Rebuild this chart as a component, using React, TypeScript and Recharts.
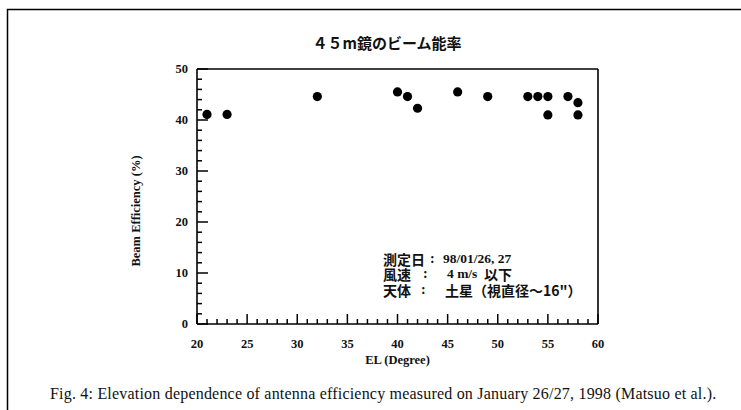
import React from 'react';
import { ScatterChart, Scatter, XAxis, YAxis, Label } from 'recharts';

// Elevation (deg) of each measurement
const elevation = [21, 23, 32, 40, 41, 42, 46, 49, 53, 54, 55, 55, 57, 58, 58];
// Beam efficiency (%)
const efficiency = [41.1, 41.1, 44.6, 45.5, 44.6, 42.3, 45.5, 44.6, 44.6, 44.6, 44.6, 41.0, 44.6, 43.4, 41.0];

const xMajorTicks = [20, 25, 30, 35, 40, 45, 50, 55, 60];
const yMajorTicks = [0, 10, 20, 30, 40, 50];
const xAllTicks = Array.from({ length: 41 }, (_, i) => 20 + i);
const yAllTicks = Array.from({ length: 26 }, (_, i) => i * 2);

const titleText = '４５m鏡のビーム能率';
const xLabelText = 'EL (Degree)';
const yLabelText = 'Beam Efficiency (%)';
const captionText =
  'Fig. 4: Elevation dependence of antenna efficiency measured on January 26/27, 1998 (Matsuo et al.).';
const noteLabels = ['測定日', '風速', '天体'];
const noteValues = ['98/01/26, 27', '4 m/s', '土星（視直径～16"）'];

const data = elevation.map((x, i) => ({ x, y: efficiency[i] }));

const SERIF = '"Liberation Serif", "DejaVu Serif", serif';
const JP = '"Noto Sans CJK JP", sans-serif';
const INK = '#000';

const BottomTick = (props: any) => {
  const { x, y, payload } = props;
  const v = payload.value;
  const major = xMajorTicks.includes(v);
  return (
    <g>
      <path d={`M${x},${y}V${y - (major ? 10 : 5)}`} stroke={INK} strokeWidth={1.5} fill="none" />
      {major && (
        <text x={x} y={y + 20} textAnchor="middle" dominantBaseline="central" fontFamily={SERIF} fontWeight="bold" fontSize={12.5} fill="#111">
          {v}
        </text>
      )}
    </g>
  );
};

const TopTick = (props: any) => {
  const { x, y, payload } = props;
  const major = xMajorTicks.includes(payload.value);
  return <path d={`M${x},${y}V${y + (major ? 10 : 5)}`} stroke={INK} strokeWidth={1.5} fill="none" />;
};

const LeftTick = (props: any) => {
  const { x, y, payload } = props;
  const v = payload.value;
  const major = yMajorTicks.includes(v);
  return (
    <g>
      <path d={`M${x},${y}H${x + (major ? 11 : 5)}`} stroke={INK} strokeWidth={1.5} fill="none" />
      {major && (
        <text x={x - 9} y={y} textAnchor="end" dominantBaseline="central" fontFamily={SERIF} fontWeight="bold" fontSize={12.5} fill="#111">
          {v}
        </text>
      )}
    </g>
  );
};

const RightTick = (props: any) => {
  const { x, y, payload } = props;
  const major = yMajorTicks.includes(payload.value);
  return <path d={`M${x},${y}H${x - (major ? 11 : 5)}`} stroke={INK} strokeWidth={1.5} fill="none" />;
};

const Dot = (props: any) => <circle cx={props.cx} cy={props.cy} r={4.6} fill="#000" />;

const axisLine = { stroke: INK, strokeWidth: 1.6 };

export default function App() {
  return (
    <div style={{ position: 'fixed', left: 0, top: 0, width: 741, height: 410, overflow: 'hidden', background: '#fff' }}>
      <div style={{ position: 'absolute', left: 0, top: 0 }}>
        <ScatterChart width={741} height={410} margin={{ top: 59, right: 133, bottom: 46, left: 137 }}>
          <XAxis
            xAxisId="bottom"
            type="number"
            dataKey="x"
            domain={[20, 60]}
            ticks={xAllTicks}
            interval={0}
            height={40}
            tickSize={0}
            tickMargin={0}
            tickLine={false}
            axisLine={axisLine}
            stroke={INK}
            tick={<BottomTick />}
          >
            <Label value={xLabelText} position="insideBottom" offset={0} style={{ fontFamily: SERIF, fontWeight: 'bold', fontSize: 12.5, fill: '#111' }} />
          </XAxis>
          <XAxis
            xAxisId="top"
            orientation="top"
            type="number"
            domain={[20, 60]}
            ticks={xAllTicks}
            interval={0}
            height={10}
            tickSize={0}
            tickMargin={0}
            tickLine={false}
            axisLine={axisLine}
            stroke={INK}
            tick={<TopTick />}
          />
          <YAxis
            yAxisId="left"
            type="number"
            dataKey="y"
            domain={[0, 50]}
            ticks={yAllTicks}
            interval={0}
            width={60}
            tickSize={0}
            tickMargin={0}
            tickLine={false}
            axisLine={axisLine}
            stroke={INK}
            tick={<LeftTick />}
          />
          <YAxis
            yAxisId="right"
            orientation="right"
            type="number"
            domain={[0, 50]}
            ticks={yAllTicks}
            interval={0}
            width={10}
            tickSize={0}
            tickMargin={0}
            tickLine={false}
            axisLine={axisLine}
            stroke={INK}
            tick={<RightTick />}
          />
          <Scatter data={data} xAxisId="bottom" yAxisId="left" shape={<Dot />} isAnimationActive={false} />
        </ScatterChart>
      </div>
      <svg style={{ position: 'absolute', left: 0, top: 0 }} width={741} height={410}>
        <path d="M7.5,410V9.5H741" stroke={INK} strokeWidth={1.5} fill="none" />
      </svg>
      <div style={{ position: 'absolute', left: 387, top: 43, transform: 'translate(-50%, -50%)', fontFamily: JP, fontSize: 15, fontWeight: 700, whiteSpace: 'nowrap', color: '#111', lineHeight: '16px' }}>
        {titleText}
      </div>
      <div style={{ position: 'absolute', left: 136, top: 211, transform: 'translate(-50%, -50%) rotate(-90deg)', fontFamily: SERIF, fontWeight: 'bold', fontSize: 12.5, whiteSpace: 'nowrap', color: '#111', lineHeight: '13px' }}>
        {yLabelText}
      </div>
      {noteLabels.map((lab, i) => {
        const top = [252, 267, 283][i];
        const box = { position: 'absolute' as const, top, height: 14, lineHeight: '14px', whiteSpace: 'nowrap' as const, color: '#111', fontWeight: 700 };
        return (
          <React.Fragment key={lab}>
            <div style={{ ...box, left: 383, fontFamily: JP, fontSize: 14 }}>{lab}</div>
            <div style={{ ...box, left: [430, 423, 421][i], fontFamily: SERIF, fontSize: 14 }}>:</div>
            {i === 0 && <div style={{ ...box, left: 443, fontFamily: SERIF, fontSize: 13.5 }}>{noteValues[0]}</div>}
            {i === 1 && (
              <>
                <div style={{ ...box, left: 447, fontFamily: SERIF, fontSize: 13.5 }}>{noteValues[1]}</div>
                <div style={{ ...box, left: 484, fontFamily: JP, fontSize: 14 }}>以下</div>
              </>
            )}
            {i === 2 && <div style={{ ...box, left: 445, fontFamily: JP, fontSize: 14 }}>{noteValues[2]}</div>}
          </React.Fragment>
        );
      })}
      <div style={{ position: 'absolute', left: 50, top: 393, transform: 'translateY(-50%)', fontFamily: SERIF, fontSize: 16, letterSpacing: 0.2, whiteSpace: 'nowrap', color: '#111', lineHeight: '17px' }}>
        {captionText}
      </div>
    </div>
  );
}
